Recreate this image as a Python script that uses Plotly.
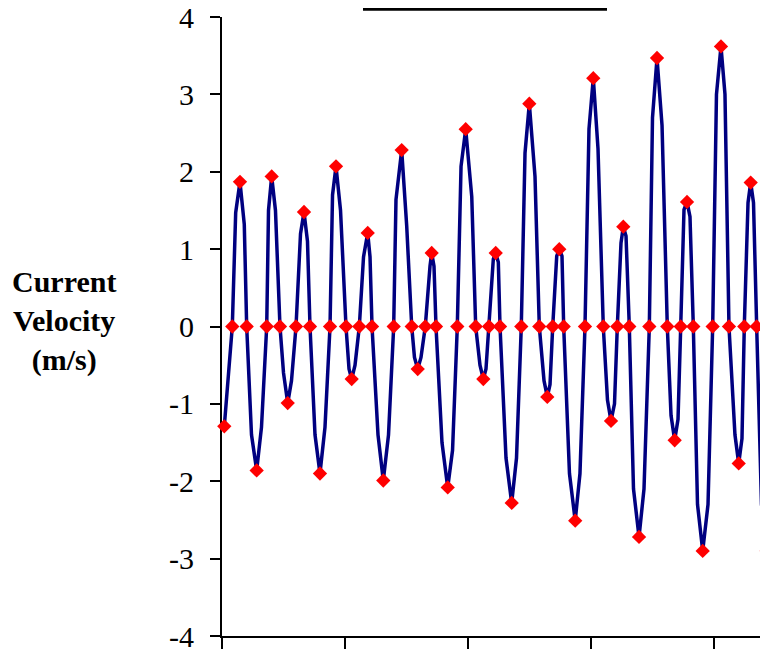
import plotly.graph_objects as go

# Time (hours) of the marked points: extremes and zero crossings
marker_hours = [0.45, 2.01, 3.51, 4.82, 6.77, 8.73, 9.70, 11.32, 12.83, 14.45,
                16.01, 17.18, 19.13, 21.09, 22.26, 24.21, 25.32, 26.81, 28.45, 29.29,
                31.49, 33.52, 35.08, 37.04, 38.21, 39.69, 40.94, 41.78, 44.07, 45.94,
                47.58, 49.53, 51.02, 52.13, 53.44, 54.28, 56.56, 58.43, 60.00, 61.95,
                63.51, 64.57, 65.85, 66.71, 68.96, 70.87, 72.49, 74.44, 75.95, 77.18,
                78.35, 79.52, 81.42, 83.43, 84.93, 86.94, 88.38, 89.56, 90.79, 92.02,
                93.85, 95.80, 97.42, 98.98, 100.88, 101.97, 103.22, 104.39, 106.34]

# Current velocity (m/s) at those points
marker_velocity = [-1.29, 0, 1.87, 0, -1.86, 0, 1.94, 0, -0.99, 0,
                   1.48, 0, -1.90, 0, 2.07, 0, -0.68, 0, 1.21, 0,
                   -1.99, 0, 2.28, 0, -0.55, 0, 0.95, 0, -2.08, 0,
                   2.55, 0, -0.68, 0, 0.95, 0, -2.28, 0, 2.88, 0,
                   -0.91, 0, 1.00, 0, -2.51, 0, 3.21, 0, -1.22, 0,
                   1.29, 0, -2.72, 0, 3.47, 0, -1.47, 0, 1.61, 0,
                   -2.90, 0, 3.62, 0, -1.77, 0, 1.86, 0, -2.90]

line_hours = [0.45, 2.01, 2.67, 3.51, 4.35, 4.82, 5.76, 6.77, 7.71, 8.73,
              9.08, 9.70, 10.44, 11.32, 12.01, 12.83, 13.57, 14.45, 15.33, 16.01,
              16.69, 17.18, 18.16, 19.13, 20.11, 21.09, 21.58, 22.26, 23.14, 24.21,
              24.80, 25.32, 25.97, 26.81, 27.63, 28.45, 28.90, 29.29, 30.46, 31.49,
              32.51, 33.52, 33.97, 35.08, 36.06, 37.04, 37.58, 38.21, 38.85, 39.69,
              40.61, 40.94, 41.39, 41.78, 42.95, 44.07, 45.01, 45.94, 46.67, 47.58,
              48.76, 49.53, 50.37, 51.02, 51.54, 52.13, 52.97, 53.44, 53.95, 54.28,
              55.45, 56.56, 57.50, 58.43, 59.16, 60.00, 61.11, 61.95, 62.87, 63.51,
              64.04, 64.57, 65.35, 65.85, 66.38, 66.71, 67.84, 68.96, 69.89, 70.87,
              71.65, 72.49, 73.41, 74.44, 75.26, 75.95, 76.63, 77.18, 77.90, 78.35,
              78.88, 79.52, 80.34, 81.42, 82.39, 83.43, 84.05, 84.93, 85.91, 86.94,
              87.67, 88.38, 89.03, 89.56, 90.20, 90.79, 91.37, 92.02, 92.84, 93.85,
              94.89, 95.80, 96.54, 97.42, 98.20, 98.98, 100.15, 100.88, 101.52, 101.97,
              102.70, 103.22, 103.77, 104.39, 105.33, 106.34]
line_velocity = [-1.29, 0, 1.47, 1.87, 1.32, 0, -1.4, -1.86, -1.3, 0,
                 1.5, 1.94, 1.5, 0, -0.6, -0.99, -0.7, 0, 1.2, 1.48,
                 1.1, 0, -1.4, -1.90, -1.3, 0, 1.7, 2.07, 1.5, 0,
                 -0.55, -0.68, -0.5, 0, 0.9, 1.21, 0.9, 0, -1.4, -1.99,
                 -1.4, 0, 1.64, 2.28, 1.30, 0, -0.4, -0.55, -0.4, 0,
                 0.78, 0.95, 0.78, 0, -1.5, -2.08, -1.6, 0, 2.07, 2.55,
                 1.68, 0, -0.5, -0.68, -0.55, 0, 0.87, 0.95, 0.83, 0,
                 -1.7, -2.28, -1.7, 0, 2.24, 2.88, 1.94, 0, -0.7, -0.91,
                 -0.75, 0, 0.91, 1.00, 0.91, 0, -1.9, -2.51, -1.9, 0,
                 2.55, 3.21, 2.3, 0, -0.95, -1.22, -1.0, 0, 1.08, 1.29,
                 1.17, 0, -2.1, -2.72, -2.1, 0, 2.7, 3.47, 2.6, 0,
                 -1.15, -1.47, -1.2, 0, 1.51, 1.61, 1.42, 0, -2.3, -2.90,
                 -2.3, 0, 3.0, 3.62, 3.0, 0, -1.4, -1.77, -1.45, 0,
                 1.6, 1.86, 1.6, 0, -2.3, -2.90]

y_tick_values = [-4, -3, -2, -1, 0, 1, 2, 3, 4]
y_tick_labels = ["-4", "-3", "-2", "-1", "0", "1", "2", "3", "4"]
x_tick_values = [0, 24, 48, 72, 96]

# The page body has an 8px margin; figure is sized to fill the rest of the window
OFF = 8
W, H = 760, 642
L, R, T, B = 214, 0, 9.4, 14

plot_w = W - L - R
plot_h = H - T - B


def px_x(page_x):
    return (page_x - OFF - L) / plot_w


def px_y(page_y):
    return (H - B - (page_y - OFF)) / plot_h


SERIF = "Liberation Serif, Times New Roman, serif"

fig = go.Figure()
fig.add_trace(go.Scatter(
    x=line_hours, y=line_velocity, mode="lines",
    line=dict(color="#000080", width=3.5),
    hoverinfo="skip", showlegend=False, cliponaxis=False))
fig.add_trace(go.Scatter(
    x=marker_hours, y=marker_velocity, mode="markers",
    marker=dict(symbol="diamond", size=11, color="#FF0000", line=dict(width=0)),
    showlegend=False, cliponaxis=False))

fig.update_layout(
    width=W, height=H,
    margin=dict(l=L, r=R, t=T, b=B, pad=0, autoexpand=False),
    paper_bgcolor="white", plot_bgcolor="white",
    font=dict(family=SERIF, color="black"),
    xaxis=dict(range=[0, 106.6], tickvals=x_tick_values, showticklabels=False,
               ticks="outside", ticklen=11, tickwidth=1.5, tickcolor="black",
               showline=True, linewidth=2, linecolor="black", automargin=False,
               showgrid=False, zeroline=False, layer="below traces"),
    yaxis=dict(range=[-4, 4], tickvals=y_tick_values, ticktext=y_tick_labels,
               ticks="outside", ticklen=10, tickwidth=1.5, tickcolor="black",
               tickfont=dict(size=30, family=SERIF),
               ticklabelstandoff=10, ticklabeloverflow="allow", automargin=False,
               showline=True, linewidth=2, linecolor="black",
               showgrid=False, zeroline=False, layer="below traces"),
)

# Axis title, horizontal, three lines
fig.add_annotation(
    text="<b>Current<br>Velocity<br>(m/s)</b>",
    xref="paper", yref="paper",
    x=px_x(64), y=px_y(321),
    xanchor="center", yanchor="middle", showarrow=False, align="center",
    font=dict(size=30, family=SERIF, color="black"))

# Underline of the chart title (the title text itself lies above the picture)
fig.add_shape(type="line", xref="paper", yref="paper",
              x0=px_x(363), x1=px_x(607),
              y0=px_y(9.6), y1=px_y(9.6),
              line=dict(color="black", width=3))

fig.write_html("out.html")
